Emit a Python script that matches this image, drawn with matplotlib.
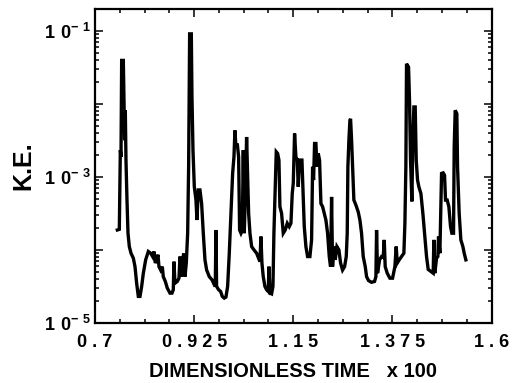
import matplotlib
matplotlib.use("Agg")
import matplotlib.pyplot as plt
from matplotlib.ticker import FixedLocator, LogLocator, NullFormatter, FixedFormatter

time = [0.7507, 0.7552, 0.7567, 0.7575, 0.7590, 0.7605, 0.7643, 0.7658, 0.7673, 0.7688,
        0.7703, 0.7726, 0.7749, 0.7779, 0.7817, 0.7870, 0.7908, 0.7945, 0.7983, 0.8021,
        0.8059, 0.8097, 0.8150, 0.8210, 0.8263, 0.8308, 0.8339, 0.8369, 0.8399, 0.8429,
        0.8452, 0.8490, 0.8528, 0.8550, 0.8596, 0.8641, 0.8702, 0.8747, 0.8777, 0.8792,
        0.8815, 0.8868, 0.8906, 0.8929, 0.8959, 0.8989, 0.9012, 0.9042, 0.9072, 0.9103,
        0.9125, 0.9148, 0.9186, 0.9201, 0.9224, 0.9254, 0.9292, 0.9314, 0.9345, 0.9382,
        0.9420, 0.9458, 0.9496, 0.9534, 0.9594, 0.9655, 0.9708, 0.9730, 0.9745, 0.9760,
        0.9806, 0.9851, 0.9889, 0.9934, 0.9972, 1.0010, 1.0048, 1.0086, 1.0124, 1.0154,
        1.0176, 1.0199, 1.0229, 1.0260, 1.0282, 1.0313, 1.0343, 1.0366, 1.0388, 1.0418,
        1.0441, 1.0464, 1.0487, 1.0517, 1.0555, 1.0608, 1.0668, 1.0713, 1.0744, 1.0766,
        1.0789, 1.0819, 1.0857, 1.0895, 1.0933, 1.0948, 1.0971, 1.1008, 1.1039, 1.1061,
        1.1092, 1.1114, 1.1145, 1.1175, 1.1197, 1.1235, 1.1273, 1.1318, 1.1364, 1.1409,
        1.1447, 1.1477, 1.1500, 1.1530, 1.1560, 1.1591, 1.1613, 1.1644, 1.1697, 1.1719,
        1.1750, 1.1787, 1.1825, 1.1878, 1.1916, 1.1939, 1.1961, 1.1984, 1.2014, 1.2037,
        1.2067, 1.2097, 1.2128, 1.2166, 1.2203, 1.2241, 1.2279, 1.2317, 1.2347, 1.2370,
        1.2392, 1.2423, 1.2453, 1.2491, 1.2536, 1.2574, 1.2619, 1.2665, 1.2703, 1.2725,
        1.2740, 1.2763, 1.2786, 1.2801, 1.2824, 1.2846, 1.2876, 1.2922, 1.2975, 1.3013,
        1.3050, 1.3088, 1.3134, 1.3164, 1.3209, 1.3277, 1.3345, 1.3376, 1.3391, 1.3413,
        1.3459, 1.3504, 1.3542, 1.3565, 1.3587, 1.3633, 1.3693, 1.3754, 1.3807, 1.3837,
        1.3860, 1.3905, 1.3958, 1.4011, 1.4034, 1.4056, 1.4071, 1.4117, 1.4139, 1.4162,
        1.4192, 1.4215, 1.4238, 1.4268, 1.4291, 1.4321, 1.4351, 1.4397, 1.4442, 1.4487,
        1.4525, 1.4563, 1.4616, 1.4676, 1.4692, 1.4714, 1.4752, 1.4782, 1.4797, 1.4828,
        1.4850, 1.4866, 1.4903, 1.4934, 1.4956, 1.4994, 1.5032, 1.5070, 1.5100, 1.5138,
        1.5153, 1.5176, 1.5213, 1.5229, 1.5266, 1.5304, 1.5350, 1.5380, 1.5418]

kinetic_energy = [1.87e-4, 1.91e-4, 1.11e-3, 2.31e-3, 1.87e-3, 3.9e-2, 3.9e-2, 1.11e-2, 3.16e-3, 8.1e-3,
                  1.69e-3, 4.8e-4, 1.69e-4, 1.11e-4, 9.0e-5, 7.7e-5, 5.9e-5, 3.5e-5, 2.31e-5, 2.31e-5,
                  3.16e-5, 4.8e-5, 7.3e-5, 9.5e-5, 9.0e-5, 8.1e-5, 9.5e-5, 6.6e-5, 7.3e-5, 8.6e-5,
                  5.9e-5, 5.3e-5, 5.9e-5, 4.3e-5, 3.7e-5, 3.0e-5, 2.56e-5, 2.56e-5, 2.85e-5, 6.9e-5,
                  3.5e-5, 3.7e-5, 4.1e-5, 8.1e-5, 4.3e-5, 6.6e-5, 9.0e-5, 4.3e-5, 6.6e-5, 1.69e-4,
                  1.37e-3, 9.0e-2, 9.0e-2, 1.23e-2, 2.31e-3, 7.3e-4, 4.8e-4, 2.56e-4, 6.6e-4, 6.6e-4,
                  4.3e-4, 1.69e-4, 7.3e-5, 5.3e-5, 4.3e-5, 3.9e-5, 3.33e-5, 3.16e-5, 1.87e-4, 3.16e-5,
                  2.85e-5, 2.7e-5, 2.31e-5, 2.19e-5, 2.26e-5, 3.16e-5, 9.0e-5, 3.16e-4, 1.11e-3, 1.87e-3,
                  4.3e-3, 2.56e-3, 2.85e-3, 1.87e-3, 1.87e-4, 1.69e-4, 1.87e-4, 2.31e-3, 1.69e-4, 7.3e-4,
                  3.5e-3, 1.11e-3, 3.16e-4, 1.69e-4, 1.11e-4, 1.0e-4, 9.0e-5, 7.7e-5, 6.9e-5, 1.52e-4,
                  6.6e-5, 4.3e-5, 3.16e-5, 2.85e-5, 2.7e-5, 5.9e-5, 2.56e-5, 2.5e-5, 3.16e-5, 1.69e-4,
                  8.1e-4, 2.19e-3, 2.08e-3, 1.69e-3, 3.9e-4, 3.16e-4, 1.69e-4, 1.87e-4, 2.31e-4, 2.08e-4,
                  2.31e-4, 5.9e-4, 8.1e-4, 3.9e-3, 1.87e-3, 1.69e-3, 7.3e-4, 1.69e-3, 1.69e-3, 7.3e-4,
                  2.08e-4, 1.11e-4, 8.1e-5, 8.1e-5, 1.37e-4, 1.37e-3, 9.0e-4, 2.85e-3, 2.85e-3, 1.37e-3,
                  2.08e-3, 1.69e-3, 4.3e-4, 3.9e-4, 3.16e-4, 2.56e-4, 1.69e-4, 8.1e-5, 5.9e-5, 5.3e-4,
                  5.9e-5, 1.11e-4, 7.3e-5, 1.11e-4, 1.0e-4, 6.6e-5, 5.3e-5, 5.9e-5, 8.1e-5, 1.69e-4,
                  1.37e-3, 3.16e-3, 5.9e-3, 6.2e-3, 3.16e-3, 1.37e-3, 4.8e-4, 4.1e-4, 3.3e-4, 2.56e-4,
                  1.69e-4, 8.1e-5, 5.9e-5, 4.3e-5, 3.8e-5, 3.6e-5, 3.7e-5, 4.3e-5, 1.87e-4, 4.8e-5,
                  7.3e-5, 8.1e-5, 7.9e-5, 1.37e-4, 5.9e-5, 4.8e-5, 4.1e-5, 4.1e-5, 5.9e-5, 1.11e-4,
                  6.6e-5, 7.3e-5, 8.1e-5, 9.0e-5, 2.31e-4, 1.37e-3, 3.51e-2, 3.16e-2, 1.11e-2, 1.69e-3,
                  4.6e-4, 3.16e-3, 9.0e-3, 9.0e-3, 1.69e-3, 9.0e-4, 7.3e-4, 5.9e-4, 3.16e-4, 1.52e-4,
                  8.1e-5, 5.4e-5, 5.1e-5, 4.8e-5, 1.37e-4, 4.8e-5, 7.7e-5, 8.1e-5, 1.52e-4, 9.0e-5,
                  3.9e-4, 1.11e-3, 1.13e-3, 1.05e-3, 4.8e-4, 4.8e-4, 3.9e-4, 2.08e-4, 1.69e-4, 1.69e-4,
                  2.56e-3, 8.1e-3, 7.3e-3, 1.37e-3, 3.16e-4, 1.37e-4, 1.11e-4, 9.0e-5, 7.3e-5]

x_ticks = [0.7, 0.925, 1.15, 1.375, 1.6]
x_tick_labels = ["0 . 7", "0 . 9 2 5", "1 . 1 5", "1 . 3 7 5", "1 . 6"]
y_ticks = [1e-5, 1e-4, 1e-3, 1e-2, 1e-1]
y_tick_labels = [r"$\mathregular{1\ 0^{-\ 5}}$", "", r"$\mathregular{1\ 0^{-\ 3}}$", "",
                 r"$\mathregular{1\ 0^{-\ 1}}$"]

plt.rcParams['font.family'] = ['Liberation Sans', 'DejaVu Sans']
plt.rcParams['font.weight'] = 'bold'
plt.rcParams['mathtext.fontset'] = 'custom'
plt.rcParams['mathtext.rm'] = 'Liberation Sans:bold'
plt.rcParams['mathtext.bf'] = 'Liberation Sans:bold'
plt.rcParams['mathtext.default'] = 'regular'

fig = plt.figure(figsize=(5.24, 3.83), dpi=100)
ax = fig.add_axes([0.1813, 0.1567, 0.7567, 0.8211])

ax.plot(time, kinetic_energy, color='black', lw=2.4, solid_joinstyle='miter')

ax.set_yscale('log')
ax.set_xlim(0.7, 1.6)
ax.set_ylim(1e-5, 2e-1)

ax.xaxis.set_major_locator(FixedLocator(x_ticks))
ax.xaxis.set_major_formatter(FixedFormatter(x_tick_labels))
minor_x = [0.7 + i * 0.05625 for i in range(17) if i % 4 != 0]
ax.xaxis.set_minor_locator(FixedLocator(minor_x))

ax.yaxis.set_major_locator(FixedLocator(y_ticks))
ax.yaxis.set_major_formatter(FixedFormatter(y_tick_labels))
ax.yaxis.set_minor_locator(LogLocator(base=10, subs=range(2, 10), numticks=50))
ax.yaxis.set_minor_formatter(NullFormatter())

for s in ax.spines.values():
    s.set_linewidth(1.6)

ax.tick_params(which='both', direction='in', top=True, right=True, width=1.1)
ax.tick_params(which='major', length=6)
ax.tick_params(which='minor', length=3)
ax.tick_params(axis='x', which='major', labelsize=13, pad=8)
ax.tick_params(axis='y', which='major', labelsize=13, pad=3)

ax.set_xlabel("DIMENSIONLESS TIME   x 100", fontsize=14.5, fontweight='bold', labelpad=8)
ax.set_ylabel("K.E.", fontsize=18, fontweight='bold', labelpad=6)

fig.savefig("out.png", dpi=100)
